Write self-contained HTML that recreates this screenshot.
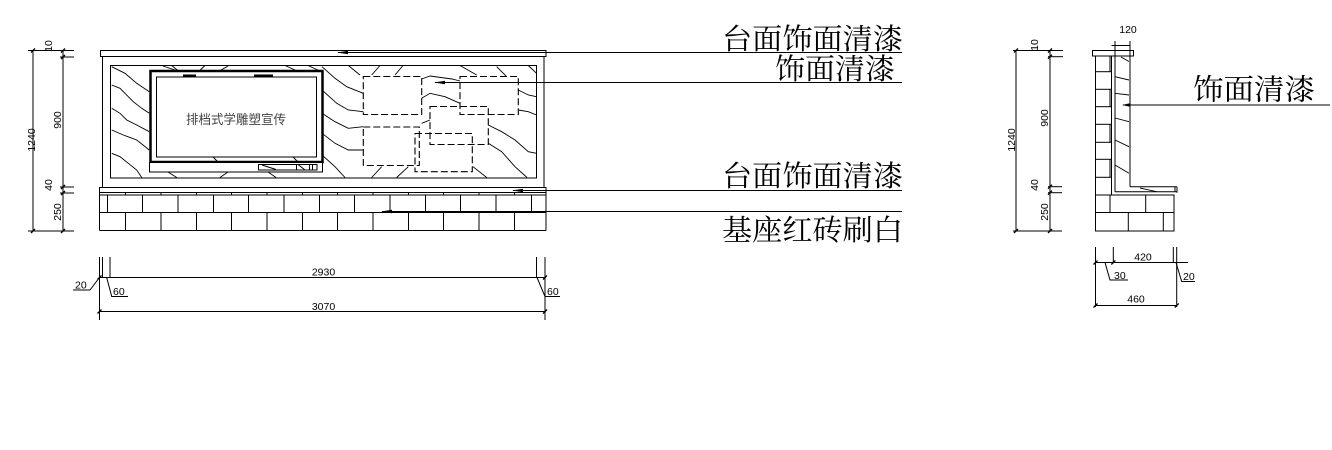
<!DOCTYPE html>
<html><head><meta charset="utf-8"><style>
html,body{margin:0;padding:0;background:#fff;}
svg{display:block;}
.d{font-family:"Liberation Sans",sans-serif;font-size:10.5px;fill:#000;}
.lb{font-family:"Liberation Serif","Noto Serif CJK SC",serif;font-size:29px;fill:#000;}
</style></head><body>
<svg width="1332" height="450" viewBox="0 0 1332 450" xmlns="http://www.w3.org/2000/svg">
<rect width="1332" height="450" fill="#fff"/>
<g stroke="#000" stroke-width="1" fill="none">
<!-- LEFT DIMENSIONS -->
<line x1="33" y1="50.5" x2="33" y2="231"/>
<line x1="63" y1="50.5" x2="63" y2="231"/>
<line x1="28" y1="50.5" x2="74" y2="50.5"/>
<line x1="60" y1="57" x2="74" y2="57"/>
<line x1="60" y1="187" x2="74" y2="187"/>
<line x1="60" y1="193" x2="74" y2="193"/>
<line x1="28" y1="231" x2="74" y2="231"/>
<!-- top cap -->
<rect x="100.5" y="50.5" width="445.5" height="6"/>
<!-- body -->
<line x1="102.5" y1="56.5" x2="102.5" y2="187.5"/>
<line x1="544" y1="56.5" x2="544" y2="187.5"/>
<rect x="110.5" y="65.5" width="426" height="112.5"/>
<!-- lower cap + base -->
<rect x="99.5" y="187.5" width="446.5" height="5"/>
<line x1="99.5" y1="195" x2="546" y2="195"/>
<line x1="99.5" y1="192.5" x2="99.5" y2="230.5"/>
<line x1="546" y1="192.5" x2="546" y2="230.5"/>
<line x1="99.5" y1="212.5" x2="546" y2="212.5"/>
<line x1="99.5" y1="230.5" x2="546" y2="230.5"/>
<!-- brick row1 -->
<g>
<line x1="107.5" y1="195" x2="107.5" y2="212.5"/><line x1="142.5" y1="195" x2="142.5" y2="212.5"/>
<line x1="178" y1="195" x2="178" y2="212.5"/><line x1="213.5" y1="195" x2="213.5" y2="212.5"/>
<line x1="248.5" y1="195" x2="248.5" y2="212.5"/><line x1="284" y1="195" x2="284" y2="212.5"/>
<line x1="319.5" y1="195" x2="319.5" y2="212.5"/><line x1="354.5" y1="195" x2="354.5" y2="212.5"/>
<line x1="390" y1="195" x2="390" y2="212.5"/><line x1="425.5" y1="195" x2="425.5" y2="212.5"/>
<line x1="460.5" y1="195" x2="460.5" y2="212.5"/><line x1="496" y1="195" x2="496" y2="212.5"/>
<line x1="531.5" y1="195" x2="531.5" y2="212.5"/>
</g>
<!-- brick row2 and strip ticks -->
<g>
<line x1="125.5" y1="192.5" x2="125.5" y2="195"/><line x1="125.5" y1="212.5" x2="125.5" y2="230.5"/>
<line x1="161" y1="192.5" x2="161" y2="195"/><line x1="161" y1="212.5" x2="161" y2="230.5"/>
<line x1="196.5" y1="192.5" x2="196.5" y2="195"/><line x1="196.5" y1="212.5" x2="196.5" y2="230.5"/>
<line x1="231.5" y1="192.5" x2="231.5" y2="195"/><line x1="231.5" y1="212.5" x2="231.5" y2="230.5"/>
<line x1="267" y1="192.5" x2="267" y2="195"/><line x1="267" y1="212.5" x2="267" y2="230.5"/>
<line x1="302.5" y1="192.5" x2="302.5" y2="195"/><line x1="302.5" y1="212.5" x2="302.5" y2="230.5"/>
<line x1="337.5" y1="192.5" x2="337.5" y2="195"/><line x1="337.5" y1="212.5" x2="337.5" y2="230.5"/>
<line x1="373" y1="192.5" x2="373" y2="195"/><line x1="373" y1="212.5" x2="373" y2="230.5"/>
<line x1="408.5" y1="192.5" x2="408.5" y2="195"/><line x1="408.5" y1="212.5" x2="408.5" y2="230.5"/>
<line x1="443.5" y1="192.5" x2="443.5" y2="195"/><line x1="443.5" y1="212.5" x2="443.5" y2="230.5"/>
<line x1="479" y1="192.5" x2="479" y2="195"/><line x1="479" y1="212.5" x2="479" y2="230.5"/>
<line x1="514.5" y1="192.5" x2="514.5" y2="195"/><line x1="514.5" y1="212.5" x2="514.5" y2="230.5"/>
</g>
<!-- contour hatch lines -->
<g stroke-width="0.9">
<polyline points="111.7,66.7 125,73.3 136.7,83.3 149.3,91.7"/>
<polyline points="111.7,85 120,88.3 133.3,101.7 141.7,108.3 149.3,113.3"/>
<polyline points="111.7,108.3 120,113.3 126.7,120 136.7,125 149.3,131.7"/>
<polyline points="111.7,130 123.3,135 136.7,140 149.3,150"/>
<polyline points="111.7,153.3 120,156.7 128.3,163.3 136.7,170 141.7,177.5"/>
<polyline points="322,66.7 335,78.3 346.7,86.7 363.3,93.3"/>
<polyline points="322,90 336.7,103.3 348.3,110 363.3,111.7"/>
<polyline points="322,113.3 335,121.7 348.3,128.3 363.3,126.7"/>
<polyline points="322,133.3 335,143.3 348.3,150 363.3,150"/>
<polyline points="322,155 335,166.7 345,177.5"/>
<polyline points="421.7,79 430,76 452,79 460,81"/>
<polyline points="421.7,98.3 430,93.3 445,96.7 460,103.3"/>
<polyline points="421.7,123.3 430,120"/>
<polyline points="518.3,90 528.3,95 536.5,96.7"/>
<polyline points="518.3,110 528.3,111.7 536.5,115"/>
<polyline points="488.3,125 501.7,131.7 515,140 528.3,151.7 536.5,153.3"/>
<polyline points="488.3,143.3 501.7,151.7 515,166.7 527,177.5"/>
<polyline points="528.3,65.5 536.5,73.3"/>
<polyline points="348.3,65.5 360,75"/>
<polyline points="371.7,75 380,65.5"/>
<polyline points="395,75 403,65.5"/>
<polyline points="460,65.5 476.7,75"/>
<polyline points="496.7,66.7 506.7,76.7"/>
<polyline points="371.7,177.5 381.7,166.7"/>
<polyline points="396.7,177.5 408.3,166.7"/>
<polyline points="473,166.7 486.7,177.5"/>
<polyline points="163,66 176.7,70.7"/>
<polyline points="171.7,65.5 183.3,75"/>
<polyline points="195,75 205,65.5"/>
<polyline points="220,70.7 228,66"/>
<polyline points="285,65.5 295,70"/>
<polyline points="308,65.5 322,72"/>
<polyline points="168,172 176.7,177.5"/>
<polyline points="220,177.5 228,172"/>
<polyline points="268,172 276,177.5"/>
</g>
<!-- dashed rects -->
<g stroke-dasharray="7,3" stroke-width="1.1">
<rect x="363.3" y="76.5" width="58.4" height="38"/>
<rect x="460" y="76.5" width="58.3" height="38"/>
<rect x="430" y="106.5" width="58.3" height="38"/>
<rect x="363.3" y="127" width="56" height="38.5"/>
<rect x="415" y="133.5" width="57.3" height="38.2"/>
</g>
<!-- sign board -->
<rect x="150.5" y="71" width="172" height="91" fill="#fff" stroke-width="2.5"/>
<rect x="156.5" y="77" width="160" height="80" fill="#fff"/>
<rect x="149.5" y="162.5" width="173" height="9.5" fill="#fff"/>
<rect x="258.5" y="164.5" width="58.5" height="5.5"/>
<line x1="296.5" y1="164.5" x2="296.5" y2="170"/>
<line x1="309.5" y1="164.5" x2="309.5" y2="170"/>
<line x1="312.5" y1="164.5" x2="312.5" y2="170"/>
<line x1="262" y1="165" x2="276" y2="169.5"/>
<line x1="298" y1="164.5" x2="305" y2="170"/>
<line x1="254" y1="75.5" x2="273" y2="75.5" stroke-width="2"/>
<line x1="183" y1="75.5" x2="196" y2="75.5" stroke-width="2"/>
<line x1="213" y1="157" x2="218" y2="162"/>
<line x1="293" y1="157" x2="298" y2="162"/>
<!-- leaders -->
<line x1="338" y1="52.5" x2="902" y2="52.5"/>
<line x1="435" y1="82.5" x2="902" y2="82.5"/>
<line x1="513" y1="190.5" x2="902" y2="190.5"/>
<line x1="382" y1="211.5" x2="902" y2="211.5"/>
<!-- bottom left dims -->
<line x1="99.5" y1="257" x2="99.5" y2="320"/>
<line x1="102.5" y1="257" x2="102.5" y2="278"/>
<line x1="110" y1="257" x2="110" y2="278"/>
<line x1="536.5" y1="257" x2="536.5" y2="278"/>
<line x1="545" y1="257" x2="545" y2="320"/>
<line x1="99.5" y1="277.5" x2="545" y2="277.5"/>
<line x1="99.5" y1="311.5" x2="545" y2="311.5"/>
<polyline points="99.5,277.5 90,290 73,290"/>
<polyline points="106.7,277.5 111.7,296.5 128,296.5"/>
<polyline points="537,277.5 545,296.5 560,296.5"/>
<!-- RIGHT SECTION dims -->
<line x1="1016" y1="50.5" x2="1016" y2="231"/>
<line x1="1050" y1="50.5" x2="1050" y2="231"/>
<line x1="1013" y1="50.5" x2="1063" y2="50.5"/>
<line x1="1048" y1="56.7" x2="1063" y2="56.7"/>
<line x1="1048" y1="186.7" x2="1062" y2="186.7"/>
<line x1="1048" y1="192.7" x2="1062" y2="192.7"/>
<line x1="1013" y1="231" x2="1062" y2="231"/>
<!-- section -->
<rect x="1092.5" y="50.5" width="41" height="5.5"/>
<line x1="1095.5" y1="56" x2="1095.5" y2="231"/>
<line x1="1111.5" y1="56" x2="1111.5" y2="195"/>
<line x1="1115" y1="41" x2="1115" y2="191.7"/>
<line x1="1130" y1="41" x2="1130" y2="186.7"/>
<line x1="1115" y1="191.7" x2="1177" y2="191.7"/>
<line x1="1130" y1="186.7" x2="1177" y2="186.7"/>
<line x1="1177" y1="186.7" x2="1177" y2="192.7"/>
<line x1="1175" y1="186.7" x2="1175" y2="191.7"/>
<line x1="1111.5" y1="45.5" x2="1130" y2="45.5"/>
<g>
<line x1="1095.5" y1="71.7" x2="1111.5" y2="71.7"/>
<line x1="1095.5" y1="89.3" x2="1111.5" y2="89.3"/>
<line x1="1095.5" y1="106.7" x2="1111.5" y2="106.7"/>
<line x1="1095.5" y1="124.3" x2="1111.5" y2="124.3"/>
<line x1="1095.5" y1="142.3" x2="1111.5" y2="142.3"/>
<line x1="1095.5" y1="159.3" x2="1111.5" y2="159.3"/>
<line x1="1095.5" y1="177.3" x2="1111.5" y2="177.3"/>
<line x1="1110" y1="56" x2="1110" y2="71.7"/>
<line x1="1110" y1="89.3" x2="1110" y2="106.7"/>
<line x1="1110" y1="124.3" x2="1110" y2="142.3"/>
<line x1="1110" y1="159.3" x2="1110" y2="177.3"/>
</g>
<g stroke-width="0.9">
<line x1="1121" y1="57" x2="1129" y2="61.5"/>
<line x1="1115" y1="76.7" x2="1129" y2="80"/>
<line x1="1115" y1="93.3" x2="1129" y2="95"/>
<line x1="1115" y1="118" x2="1129" y2="121.7"/>
<line x1="1115" y1="140" x2="1129" y2="146.7"/>
<line x1="1115" y1="165" x2="1129" y2="173.3"/>
<line x1="1140" y1="188" x2="1156.7" y2="191.7"/>
</g>
<!-- base -->
<rect x="1095.5" y="195" width="78.5" height="36"/>
<line x1="1095.5" y1="212.5" x2="1174" y2="212.5"/>
<line x1="1110" y1="195" x2="1110" y2="212.5"/>
<line x1="1145.7" y1="195" x2="1145.7" y2="212.5"/>
<line x1="1128.3" y1="212.5" x2="1128.3" y2="231"/>
<line x1="1163.3" y1="212.5" x2="1163.3" y2="231"/>
<!-- section leader -->
<line x1="1123" y1="105" x2="1330" y2="105"/>
<!-- section bottom dims -->
<line x1="1095.5" y1="247" x2="1095.5" y2="307"/>
<line x1="1113.3" y1="247" x2="1113.3" y2="263"/>
<line x1="1173.3" y1="247" x2="1173.3" y2="263"/>
<line x1="1176.7" y1="247" x2="1176.7" y2="307"/>
<line x1="1095.5" y1="262.5" x2="1188" y2="262.5"/>
<line x1="1095.5" y1="305.5" x2="1176.7" y2="305.5"/>
<polyline points="1105,262.5 1110,280 1128,280"/>
<polyline points="1176,262.5 1181.7,281.5 1195,281.5"/>
</g>
<!-- arrows -->
<g fill="#000">
<polygon points="337,52.5 348,50.7 348,54.3"/>
<polygon points="434,82.5 445,80.7 445,84.3"/>
<polygon points="512,190.5 523,188.7 523,192.3"/>
<polygon points="381,211.5 392,209.7 392,213.3"/>
<polygon points="1122,105 1130,103.2 1130,106.8"/>
</g>
<!-- tick marks -->
<g stroke="#000" stroke-width="1.3">
<line x1="31" y1="52.5" x2="35" y2="48.5"/><line x1="31" y1="233" x2="35" y2="229"/>
<line x1="61" y1="52.5" x2="65" y2="48.5"/><line x1="61" y1="59" x2="65" y2="55"/>
<line x1="61" y1="189" x2="65" y2="185"/><line x1="61" y1="195" x2="65" y2="191"/>
<line x1="61" y1="233" x2="65" y2="229"/>
<line x1="1014" y1="52.5" x2="1018" y2="48.5"/><line x1="1014" y1="233" x2="1018" y2="229"/>
<line x1="1048" y1="52.5" x2="1052" y2="48.5"/><line x1="1048" y1="58.7" x2="1052" y2="54.7"/>
<line x1="1048" y1="188.7" x2="1052" y2="184.7"/><line x1="1048" y1="194.7" x2="1052" y2="190.7"/>
<line x1="1048" y1="233" x2="1052" y2="229"/>
<line x1="97.5" y1="279.5" x2="101.5" y2="275.5"/><line x1="543" y1="279.5" x2="547" y2="275.5"/>
<line x1="97.5" y1="313.5" x2="101.5" y2="309.5"/><line x1="543" y1="313.5" x2="547" y2="309.5"/>
<line x1="1093.5" y1="264.5" x2="1097.5" y2="260.5"/><line x1="1111.3" y1="264.5" x2="1115.3" y2="260.5"/>
<line x1="1093.5" y1="307.5" x2="1097.5" y2="303.5"/><line x1="1174.7" y1="307.5" x2="1178.7" y2="303.5"/>
</g>
<!-- dimension text -->
<g class="d">
<text transform="translate(35,140) rotate(-90)" text-anchor="middle">1240</text>
<text transform="translate(52,46) rotate(-90)" text-anchor="middle">10</text>
<text transform="translate(61,120) rotate(-90)" text-anchor="middle">900</text>
<text transform="translate(52,185) rotate(-90)" text-anchor="middle">40</text>
<text transform="translate(61,212) rotate(-90)" text-anchor="middle">250</text>
<text transform="translate(1015,140) rotate(-90)" text-anchor="middle">1240</text>
<text transform="translate(1038,45) rotate(-90)" text-anchor="middle">10</text>
<text transform="translate(1048,118) rotate(-90)" text-anchor="middle">900</text>
<text transform="translate(1038,185) rotate(-90)" text-anchor="middle">40</text>
<text transform="translate(1048,212) rotate(-90)" text-anchor="middle">250</text>
<text x="323.5" y="275.5" text-anchor="middle">2930</text>
<text x="323.5" y="310" text-anchor="middle">3070</text>
<text x="75" y="288.5">20</text>
<text x="113" y="295">60</text>
<text x="547" y="295">60</text>
<text x="1143" y="260.5" text-anchor="middle">420</text>
<text x="1114" y="279">30</text>
<text x="1183" y="280">20</text>
<text x="1136" y="302.5" text-anchor="middle">460</text>
<text x="1128" y="33" text-anchor="middle">120</text>
</g>
<text x="186" y="124" font-family="'Liberation Sans','Noto Sans CJK SC',sans-serif" font-size="13" fill="#444" textLength="100" lengthAdjust="spacingAndGlyphs">排档式学雕塑宣传</text>
<!-- labels -->
<g class="lb">
<text x="722" y="49" textLength="181" lengthAdjust="spacingAndGlyphs">台面饰面清漆</text>
<text x="775" y="79" textLength="120" lengthAdjust="spacingAndGlyphs">饰面清漆</text>
<text x="722" y="186" textLength="181" lengthAdjust="spacingAndGlyphs">台面饰面清漆</text>
<text x="722" y="240" textLength="181" lengthAdjust="spacingAndGlyphs">基座红砖刷白</text>
<text x="1193" y="99.5" textLength="122" lengthAdjust="spacingAndGlyphs">饰面清漆</text>
</g>
</svg>
</body></html>
